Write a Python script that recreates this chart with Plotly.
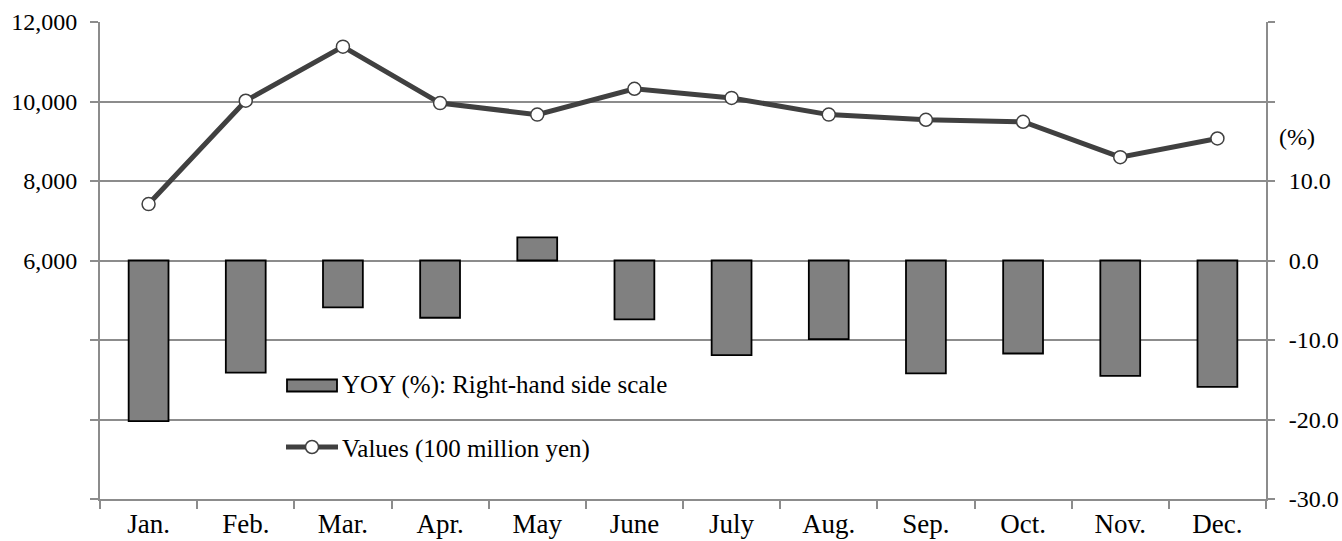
import plotly.graph_objects as go

# Monthly data
months = ["Jan.", "Feb.", "Mar.", "Apr.", "May", "June",
          "July", "Aug.", "Sep.", "Oct.", "Nov.", "Dec."]
values_100m_yen = [7420, 10020, 11380, 9960, 9670, 10320,
                   10090, 9670, 9540, 9490, 8600, 9070]
yoy_pct = [-20.2, -14.1, -5.9, -7.2, 2.9, -7.4,
           -11.9, -9.9, -14.2, -11.7, -14.5, -15.9]

left_tickvals = [0, 2000, 4000, 6000, 8000, 10000, 12000]
left_ticktext = ["", "", "", "6,000", "8,000", "10,000", "12,000"]
right_tickvals = [-30, -20, -10, 0, 10, 20, 30]
right_ticktext = ["-30.0", "-20.0", "-10.0", "0.0", "10.0", "", ""]

bar_label = "YOY (%): Right-hand side scale"
line_label = "Values (100 million yen)"

FONT = "Liberation Serif"
GRID = "#8c8c8c"
LINE = "#404040"
BAR = "#808080"

W, H = 1342, 541
ML, MR, MT, MB = 100, 76, 22, 42
PW, PH = W - ML - MR, H - MT - MB


def px_x(p):
    return (p - ML) / PW


def px_y(p):
    return (H - MB - p) / PH


fig = go.Figure()

fig.add_trace(go.Bar(
    x=months, y=yoy_pct, yaxis="y2", name=bar_label,
    width=0.41,
    marker=dict(color=BAR, line=dict(color="#000000", width=1.8)),
    showlegend=False,
))

fig.add_trace(go.Scatter(
    x=months, y=values_100m_yen, name=line_label,
    mode="lines+markers",
    line=dict(color=LINE, width=5),
    marker=dict(size=13, color="white", line=dict(color=LINE, width=1.5)),
    showlegend=False,
))

# Hand-built legend block: white panel and symbols
shapes = [
    dict(type="rect", xref="paper", yref="paper",
         x0=px_x(279), x1=px_x(674), y0=px_y(478), y1=px_y(352),
         fillcolor="white", line=dict(width=0), layer="between"),
    dict(type="rect", xref="paper", yref="paper",
         x0=px_x(287), x1=px_x(337), y0=px_y(391.5), y1=px_y(379.5),
         fillcolor=BAR, line=dict(color="#000000", width=1.8), layer="between"),
    dict(type="line", xref="paper", yref="paper",
         x0=px_x(286), x1=px_x(338), y0=px_y(447), y1=px_y(447),
         line=dict(color=LINE, width=5), layer="between"),
]
fig.add_trace(go.Scatter(
    x=[px_x(312)], y=[px_y(447)], xaxis="x2", yaxis="y3",
    mode="markers", hoverinfo="skip", showlegend=False,
    marker=dict(size=13, color="white", line=dict(color=LINE, width=1.5)),
))

annotations = [
    dict(text=bar_label, xref="paper", yref="paper",
         x=px_x(340), y=px_y(385), xanchor="left", yanchor="middle",
         showarrow=False, font=dict(family=FONT, size=25, color="black")),
    dict(text=line_label, xref="paper", yref="paper",
         x=px_x(340), y=px_y(449), xanchor="left", yanchor="middle",
         showarrow=False, font=dict(family=FONT, size=25, color="black")),
    dict(text="(%)", xref="paper", yref="y2",
         x=px_x(1277), y=15, xanchor="left", yanchor="middle", yshift=4,
         showarrow=False, font=dict(family=FONT, size=24, color="black")),
]

fig.update_layout(
    width=W, height=H,
    margin=dict(l=ML, r=MR, t=MT, b=MB, pad=0, autoexpand=False),
    paper_bgcolor="white", plot_bgcolor="white",
    font=dict(family=FONT, size=24, color="black"),
    shapes=shapes,
    annotations=annotations,
    xaxis=dict(
        type="category", range=[-0.5, 11.5], automargin=False,
        showline=True, linecolor=GRID, linewidth=2,
        ticks="outside", tickson="boundaries", ticklen=8, tickwidth=1.5,
        tickcolor=GRID, showgrid=False, ticklabelstandoff=0,
        tickfont=dict(family=FONT, size=27, color="black"),
    ),
    yaxis=dict(
        range=[0, 12000], tickvals=left_tickvals, ticktext=left_ticktext,
        automargin=False,
        showline=True, linecolor=GRID, linewidth=2,
        ticks="outside", ticklen=8, tickwidth=1.5, tickcolor=GRID,
        showgrid=True, gridcolor=GRID, gridwidth=1.5, zeroline=False,
        ticklabelstandoff=8,
        tickfont=dict(family=FONT, size=24, color="black"),
    ),
    yaxis2=dict(
        range=[-30, 30], tickvals=right_tickvals, ticktext=right_ticktext,
        overlaying="y", side="right", automargin=False,
        showline=True, linecolor=GRID, linewidth=2,
        ticks="outside", ticklen=7, tickwidth=1.5, tickcolor=GRID,
        showgrid=False, zeroline=False,
        ticklabelstandoff=9,
        tickfont=dict(family=FONT, size=24, color="black"),
    ),
    xaxis2=dict(range=[0, 1], overlaying="x", visible=False, fixedrange=True),
    yaxis3=dict(range=[0, 1], overlaying="y", visible=False, fixedrange=True),
)

fig.write_html("out.html")
